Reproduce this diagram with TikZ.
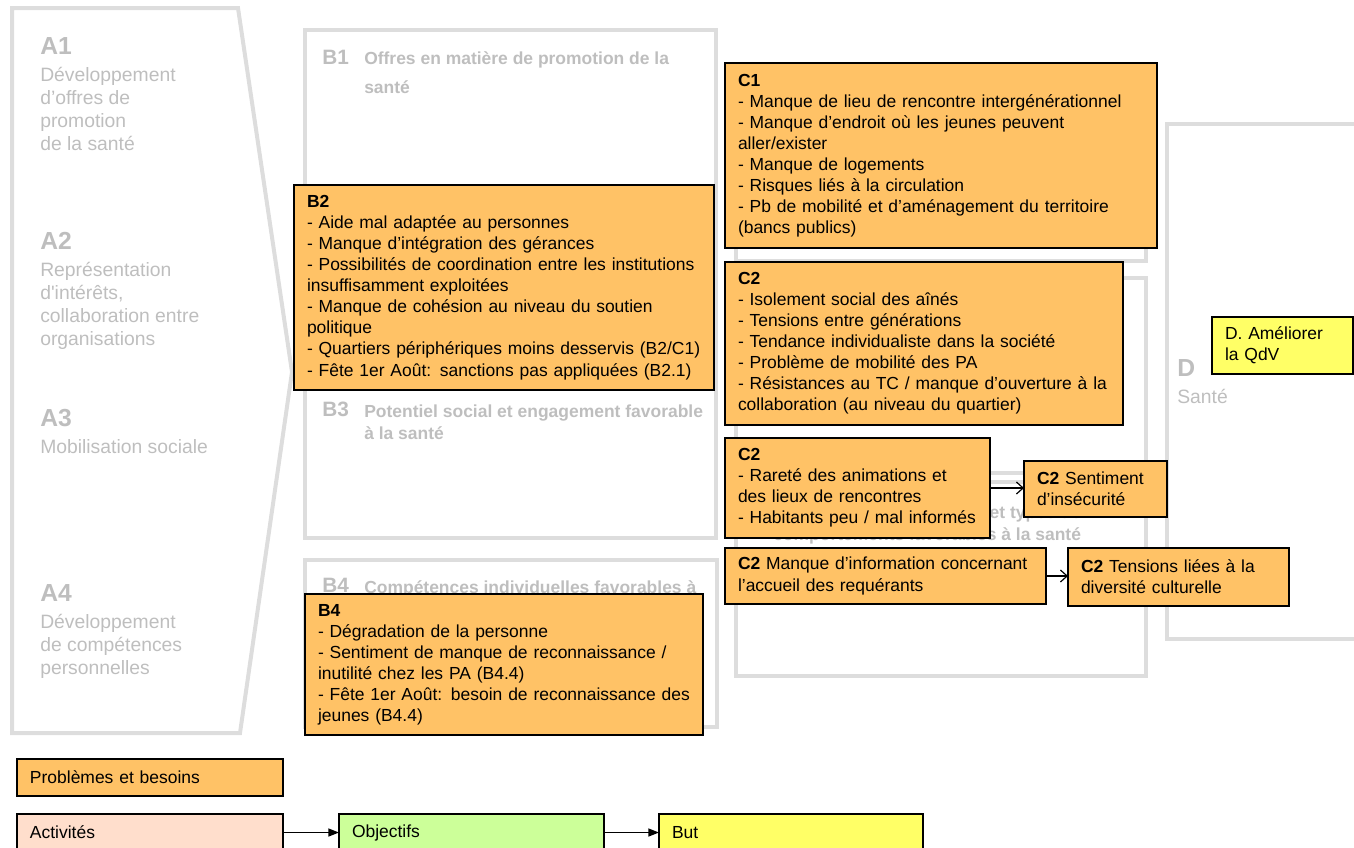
\documentclass[tikz,border=0pt]{standalone}
\usepackage{fontspec}
\setmainfont{Liberation Sans}
\usetikzlibrary{arrows.meta}

\definecolor{orangepb}{RGB}{255,194,102}
\definecolor{pecheact}{RGB}{255,222,204}
\definecolor{vertobj}{RGB}{204,255,153}
\definecolor{jaunebut}{RGB}{255,255,102}
\definecolor{griscadre}{RGB}{221,221,221}
\definecolor{gristexte}{RGB}{190,190,190}

\newcommand{\etiq}[1]{{\fontsize{18.5}{18.5}\selectfont\bfseries #1}}

\tikzset{
  cadre/.style={draw=griscadre,line width=3pt},
  textegris/.style={text=gristexte,anchor=north west,inner sep=0pt,align=left,
    font=\fontsize{14.5}{17.25}\selectfont},
  codegris/.style={textegris,font=\fontsize{15.6}{15.6}\selectfont\bfseries},
  titregris/.style={textegris,font=\fontsize{13.1}{16.5}\selectfont\bfseries},
  boite/.style={draw=black,line width=0.9pt,fill=orangepb,anchor=north west,
    outer sep=0pt,inner xsep=9.75pt,inner ysep=0pt,align=left,
    font=\fontsize{13.1}{15.8}\selectfont},
  lien/.style={-{Straight Barb[length=5pt,width=9pt]},line width=0.9pt},
  fleche/.style={-{Triangle[length=8pt,width=6pt]},line width=1.1pt},
}

\begin{document}
\begin{tikzpicture}[x=0.75pt,y=-0.75pt]
  \useasboundingbox (0,0) rectangle (1354,847);

  % cadres
  \draw[cadre] (12,8) -- (238,8) -- (292,372) -- (240,733) -- (12,733) -- cycle;
  \draw[cadre] (305,30) rectangle (716,200);
  \draw[cadre] (305,200) rectangle (716,384);
  \draw[cadre] (305,384) rectangle (716,538);
  \draw[cadre] (305,560) rectangle (717,727);
  \draw[cadre] (736,70) rectangle (1146,261);
  \draw[cadre] (736,278) rectangle (1146,473);
  \draw[cadre] (736,482) rectangle (1146,676);
  \draw[cadre] (1167,124) rectangle (1380,639);

  % textes gris
  \node[textegris] (a1) at (40,37) {\etiq{A1}\\[3pt] Développement\\ d’offres de\\ promotion\\ de la santé};
  \node[textegris] (a2) at (40,232) {\etiq{A2}\\[3pt] Représentation\\ d\textquotesingle intérêts,\\ collaboration entre\\ organisations};
  \node[textegris] (a3) at (40,409) {\etiq{A3}\\[3pt] Mobilisation sociale};
  \node[textegris] (a4) at (40,584) {\etiq{A4}\\[3pt] Développement\\ de compétences\\ personnelles};
  \node[codegris] (b1code) at (322,50) {B1};
  \node[titregris] (b1titre) at (364,51) {Offres en matière de promotion de la\\[5.25pt] santé};
  \node[codegris] (b3code) at (322,401.5) {B3};
  \node[titregris] (b3titre) at (364,404.5) {Potentiel social et engagement favorable\\ à la santé};
  \node[codegris] (b4code) at (322,577.5) {B4};
  \node[titregris] (b4titre) at (364,580.5) {Compétences individuelles favorables à};
  \node[titregris] (c3titre) at (773,505.5) {Ressources personnelles et types de\\ comportements favorables à la santé};
  \node[textegris] (dtitre) at (1177,359) {\etiq{D}\\[3pt] Santé};

  % problèmes et besoins
  \node[boite,text width=295.5pt,minimum height=153.75pt] (b2) at (294,185)
    {\textbf{B2}\\
     - Aide mal adaptée au personnes\\
     - Manque d’intégration des gérances\\
     - Possibilités de coordination entre les institutions\\
     insuffisamment exploitées\\
     - Manque de cohésion au niveau du soutien\\
     politique\\
     - Quartiers périphériques moins desservis (B2/C1)\\
     - Fête 1er Août: sanctions pas appliquées (B2.1)};
  \node[boite,text width=279pt,minimum height=105.75pt] (b4) at (305,594)
    {\textbf{B4}\\
     - Dégradation de la personne\\
     - Sentiment de manque de reconnaissance /\\
     inutilité chez les PA (B4.4)\\
     - Fête 1er Août: besoin de reconnaissance des\\
     jeunes (B4.4)};
  \node[boite,text width=304.5pt,minimum height=138.75pt] (c1) at (725,63)
    {\textbf{C1}\\
     - Manque de lieu de rencontre intergénérationnel\\
     - Manque d’endroit où les jeunes peuvent\\
     aller/exister\\
     - Manque de logements\\
     - Risques liés à la circulation\\
     - Pb de mobilité et d’aménagement du territoire\\
     (bancs publics)};
  \node[boite,text width=279pt,minimum height=122.25pt] (c2a) at (725,262)
    {\textbf{C2}\\
     - Isolement social des aînés\\
     - Tensions entre générations\\
     - Tendance individualiste dans la société\\
     - Problème de mobilité des PA\\
     - Résistances au TC / manque d’ouverture à la\\
     collaboration (au niveau du quartier)};
  \node[boite,text width=179.25pt,minimum height=75pt] (c2b) at (725,438)
    {\textbf{C2}\\
     - Rareté des animations et\\
     des lieux de rencontres\\
     - Habitants peu / mal informés};
  \node[boite,text width=87.75pt,minimum height=42pt] (c2s) at (1024,461)
    {\textbf{C2} Sentiment\\ d’insécurité};
  \node[boite,text width=221.25pt,minimum height=42pt] (c2m) at (725,548)
    {\textbf{C2} Manque d’information concernant\\ l’accueil des requérants};
  \node[boite,text width=146.25pt,minimum height=43.5pt] (c2t) at (1068,548)
    {\textbf{C2} Tensions liées à la\\ diversité culturelle};
  \node[boite,fill=jaunebut,text width=86.25pt,minimum height=42.75pt] (d) at (1212,317)
    {D. Améliorer\\ la QdV};

  \draw[lien] (c2b.east) -- (c2b.east -| c2s.west);
  \draw[lien] (c2m.east) -- (c2m.east -| c2t.west);

  % légende
  \node[boite,text width=180pt,minimum height=27.75pt] (prob) at (17,759) {Problèmes et besoins};
  \node[boite,fill=pecheact,text width=180pt,minimum height=27.75pt] (act) at (17,814) {Activités};
  \node[boite,fill=vertobj,text width=179.25pt,minimum height=27.75pt] (obj) at (339,814) {Objectifs};
  \node[boite,fill=jaunebut,text width=178.5pt,minimum height=27.75pt] (but) at (659,814) {But};

  \draw[fleche] (act) -- (obj);
  \draw[fleche] (obj) -- (but);
\end{tikzpicture}
\end{document}
